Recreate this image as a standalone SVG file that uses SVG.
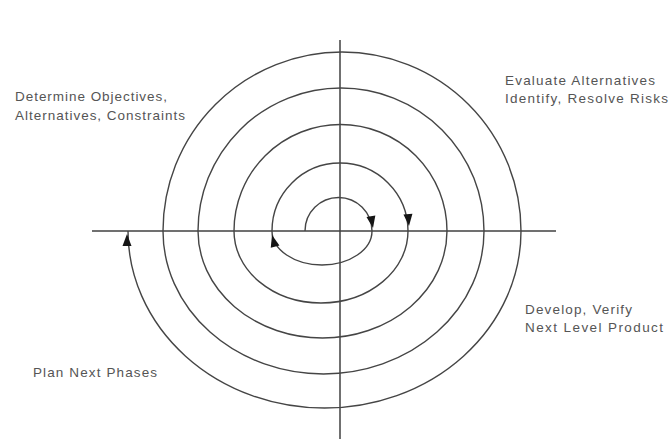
<svg xmlns="http://www.w3.org/2000/svg" width="670" height="439" viewBox="0 0 670 439">
<style>
.axis{stroke:#404040;stroke-width:1.5;fill:none}
.sp{stroke:#454545;stroke-width:1.4;fill:none}
.ah{fill:#151515}
.lbl{font-family:"Liberation Sans",Arial,sans-serif;font-size:13.5px;fill:#555}
</style>
<defs>
<path id="ah" d="M0,0 L-4.5,-12 L4.5,-12 Z"/>
</defs>
<rect width="670" height="439" fill="#fff"/>
<g id="connectors">
<line class="axis" x1="92" y1="231" x2="556" y2="231"/>
<line class="axis" x1="340" y1="40" x2="340" y2="439"/>
<path class="sp" d="M305,231 A33.5,33.5 0 0 1 372,231 A50,34 0 0 1 272,231 A68,68 0 0 1 408,231 A87,72 0 0 1 234,231 A106.5,106.5 0 0 1 447,231 A124.5,107 0 0 1 198,231 A143,143 0 0 1 484,231 A160.5,143 0 0 1 163,231 A179,179 0 0 1 521,231 A196.5,177 0 0 1 128,231"/>
<use class="ah" href="#ah" transform="translate(373,228) rotate(-10)"/>
<use class="ah" href="#ah" transform="translate(409,226) rotate(-5)"/>
<use class="ah" href="#ah" transform="translate(272,235) rotate(165)"/>
<use class="ah" href="#ah" transform="translate(127,234) rotate(180)"/>
</g>
<g id="n1"><text class="lbl" x="15" y="101" textLength="152" lengthAdjust="spacing">Determine Objectives,</text><text class="lbl" x="15" y="120" textLength="170" lengthAdjust="spacing">Alternatives, Constraints</text></g>
<g id="n2"><text class="lbl" x="505" y="85" textLength="150" lengthAdjust="spacing">Evaluate Alternatives</text><text class="lbl" x="505" y="103" textLength="163" lengthAdjust="spacing">Identify, Resolve Risks</text></g>
<g id="n3"><text class="lbl" x="525" y="314" textLength="107" lengthAdjust="spacing">Develop, Verify</text><text class="lbl" x="525" y="332" textLength="138" lengthAdjust="spacing">Next Level Product</text></g>
<g id="n4"><text class="lbl" x="33" y="377" textLength="124" lengthAdjust="spacing">Plan Next Phases</text></g>
</svg>
